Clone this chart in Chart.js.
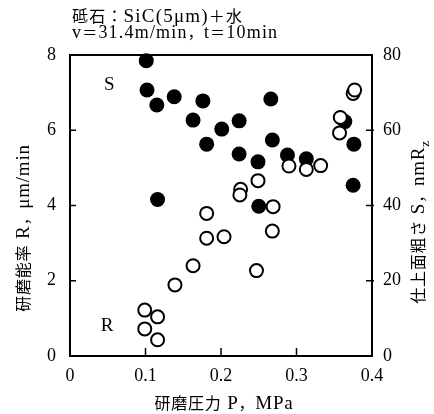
<!DOCTYPE html>
<html><head><meta charset="utf-8">
<script src="https://cdn.jsdelivr.net/npm/chart.js@4/dist/chart.umd.min.js"></script>
<style>html,body{margin:0;padding:0;background:#fff;}#wrap{width:434px;height:414px;position:relative}</style>
</head><body><div id="wrap"><canvas id="c" width="434" height="414"></canvas></div>
<script>
// ---- data ----
const pressureR = [0.375,0.377,0.358,0.357,0.290,0.313,0.332,0.249,0.226,0.225,0.269,0.181,0.181,0.204,0.268,0.247,0.163,0.139,0.099,0.116,0.099,0.116];
const rateR     = [6.98, 7.07, 6.34, 5.93, 5.05, 4.96, 5.06, 4.66, 4.43, 4.28, 3.97, 3.79, 3.13, 3.17, 3.32, 2.27, 2.40, 1.89, 1.22, 1.04, 0.72, 0.43];
const pressureS = [0.101,0.102,0.115,0.138,0.176,0.163,0.201,0.181,0.116,0.266,0.224,0.268,0.224,0.249,0.288,0.313,0.250,0.364,0.376,0.375];
const roughS    = [78.5, 70.7, 66.7, 68.9, 67.8, 62.7, 60.3, 56.3, 41.6, 68.3, 62.5, 57.4, 53.7, 51.6, 53.4, 52.4, 39.8, 62.3, 56.3, 45.4];
const xTicks  = [0, 0.1, 0.2, 0.3, 0.4];
const yTicks  = [0, 2, 4, 6, 8];
const y2Ticks = [0, 20, 40, 60, 80];
const headerLines = ['砥石：SiC(5μm)＋水', 'v＝31.4m/min，t＝10min'];
const xTitle  = '研磨圧力 P，MPa';
const yTitle  = '研磨能率 R，μm/min';
const y2Title = '仕上面粗さ S，nmR_z';
const seriesLabels = [{text:'S', x:0.052, y:7.2}, {text:'R', x:0.049, y:0.8}];

const LATIN = "'Liberation Serif', 'Noto Sans CJK JP', serif";
const CJK = "'Noto Sans CJK JP', sans-serif";
const isCJK = ch => /[\u3000-\u9fff\uff00-\uffef]/.test(ch);

function runs(text){
  const out=[]; let i=0;
  while(i<text.length){
    let ch=text[i];
    if(ch==='_'){ out.push({t:text[i+1],sub:true,cjk:false}); i+=2; continue; }
    const c=isCJK(ch);
    const last=out[out.length-1];
    if(last && !last.sub && last.cjk===c) last.t+=ch; else out.push({t:ch,cjk:c,sub:false});
    i++;
  }
  return out;
}
function fontFor(r, size){
  if(r.sub) return `${Math.round(size*0.7)}px ${LATIN}`;
  return r.cjk ? `${Math.round(size*0.85)}px ${CJK}` : `${size}px ${LATIN}`;
}
function drawMixed(ctx, text, x, y, size, align, spacing){
  const rs=runs(text);
  ctx.save();
  ctx.textBaseline='alphabetic'; ctx.textAlign='left'; ctx.fillStyle='#000';
  let w=0;
  rs.forEach(r=>{ctx.font=fontFor(r,size); r.w=0; for(const ch of r.t){ r.w+=ctx.measureText(ch).width + spacing; } w+=r.w;});
  let cx = align==='center' ? x-w/2 : x;
  rs.forEach(r=>{
    ctx.font=fontFor(r,size);
    let px=cx;
    for(const ch of r.t){ ctx.fillText(ch, px, y + (r.sub?size*0.25:0)); px += ctx.measureText(ch).width + spacing; }
    cx+=r.w;
  });
  ctx.restore();
}

const decor = {
  id:'decor',
  afterDatasetsDraw(chart){
    const ctx=chart.ctx, a=chart.chartArea;
    const sx=chart.scales.x, sy=chart.scales.y, sy2=chart.scales.y2;
    ctx.save();
    ctx.strokeStyle='#000'; ctx.lineWidth=2;
    ctx.strokeRect(a.left, a.top, a.right-a.left, a.bottom-a.top);
    ctx.lineWidth=1.5;
    ctx.beginPath();
    yTicks.slice(1,-1).forEach(v=>{const p=sy.getPixelForValue(v); ctx.moveTo(a.left,p); ctx.lineTo(a.left+6,p);});
    y2Ticks.slice(1,-1).forEach(v=>{const p=sy2.getPixelForValue(v); ctx.moveTo(a.right-6,p); ctx.lineTo(a.right+2,p);});
    xTicks.slice(1,-1).forEach(v=>{const p=sx.getPixelForValue(v); ctx.moveTo(p,a.bottom); ctx.lineTo(p,a.bottom-8);});
    ctx.stroke();
    ctx.restore();
    seriesLabels.forEach(l=>{
      ctx.save(); ctx.font=`19px ${LATIN}`; ctx.fillStyle='#000'; ctx.textAlign='center'; ctx.textBaseline='middle';
      ctx.fillText(l.text, sx.getPixelForValue(l.x), sy.getPixelForValue(l.y)); ctx.restore();
    });
    // header
    drawMixed(ctx, headerLines[0], 72, 22, 19, 'left', 1.2);
    drawMixed(ctx, headerLines[1], 72, 38, 18, 'left', 1.2);
    // x title
    drawMixed(ctx, xTitle, 224, 409, 19, 'center', 0.8);
    // y title
    ctx.save(); ctx.translate(29, 228); ctx.rotate(-Math.PI/2);
    drawMixed(ctx, yTitle, 0, 0, 19, 'center', 0.8); ctx.restore();
    // y2 title
    ctx.save(); ctx.translate(424, 222); ctx.rotate(-Math.PI/2);
    drawMixed(ctx, y2Title, 0, 0, 19, 'center', 0.8); ctx.restore();
  }
};

const tickFont = {family: LATIN, size: 18};
new Chart(document.getElementById('c'), {
  type:'scatter',
  data:{datasets:[
    {label:'R', data: pressureR.map((p,i)=>({x:p,y:rateR[i]})), yAxisID:'y', order:0, clip:false,
     pointRadius:6.5, pointHoverRadius:6.5, borderWidth:2, borderColor:'#000', backgroundColor:'#fff'},
    {label:'S', data: pressureS.map((p,i)=>({x:p,y:roughS[i]})), yAxisID:'y2', order:1, clip:false,
     pointRadius:7.5, pointHoverRadius:7.5, borderWidth:0, borderColor:'#000', backgroundColor:'#000'}
  ]},
  options:{
    responsive:false, animation:false, events:[],
    layout:{padding:{top:55,left:0,right:0,bottom:0}},
    plugins:{legend:{display:false}, tooltip:{enabled:false}},
    scales:{
      x:{type:'linear', min:0, max:0.4, position:'bottom',
         afterBuildTicks:s=>{s.ticks=xTicks.map(v=>({value:v}));},
         afterFit:s=>{s.height=58;},
         grid:{display:false, drawTicks:false}, border:{display:false},
         ticks:{font:tickFont, color:'#000', padding:9, maxRotation:0, callback:v=>v===0?'0':String(v)}},
      y:{type:'linear', min:0, max:8, position:'left',
         afterBuildTicks:s=>{s.ticks=yTicks.map(v=>({value:v}));},
         afterFit:s=>{s.width=70;},
         grid:{display:false, drawTicks:false}, border:{display:false},
         ticks:{font:tickFont, color:'#000', padding:14}},
      y2:{type:'linear', min:0, max:80, position:'right',
         afterBuildTicks:s=>{s.ticks=y2Ticks.map(v=>({value:v}));},
         afterFit:s=>{s.width=62;},
         grid:{display:false, drawTicks:false}, border:{display:false},
         ticks:{font:tickFont, color:'#000', padding:11}}
    }
  },
  plugins:[decor]
});
</script></body></html>
